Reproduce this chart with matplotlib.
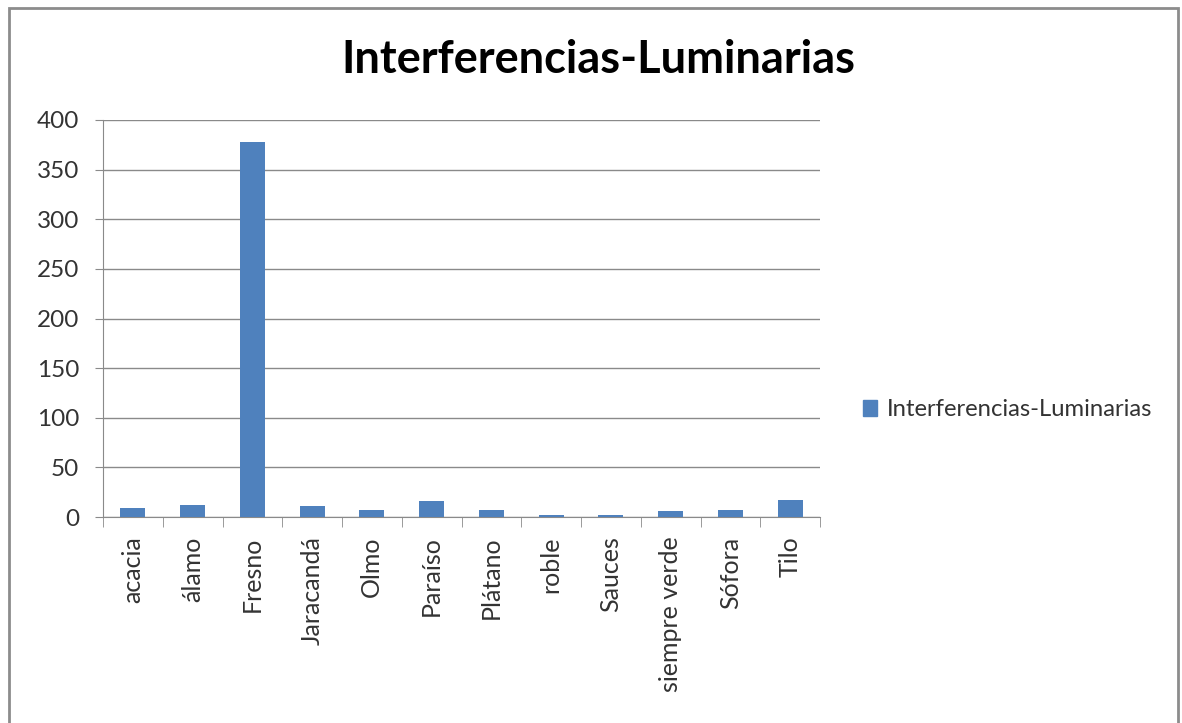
import numpy as np
import matplotlib
matplotlib.use('Agg')
from matplotlib import pyplot as plt
from matplotlib.patches import Rectangle, Patch

categories = ['acacia', 'álamo', 'Fresno', 'Jaracandá', 'Olmo', 'Paraíso', 'Plátano',
              'roble', 'Sauces', 'siempre verde', 'Sófora', 'Tilo']
values = [9, 12, 378, 11, 7, 16, 7, 2, 2, 6, 7, 17]
series_name = 'Interferencias-Luminarias'
yticks = [0, 50, 100, 150, 200, 250, 300, 350, 400]

plt.rcParams['font.family'] = ['Lato', 'DejaVu Sans']

fig = plt.figure(figsize=(11.82, 7.23), dpi=100)
ax = fig.add_axes([103 / 1182, 1 - 517 / 723, (820 - 103) / 1182, (517 - 120) / 723])

# outer chart frame
fig.patches.append(Rectangle((9 / 1182, -0.05), (1178 - 9) / 1182, 1.05 - 8 / 723,
                             transform=fig.transFigure, fill=False,
                             edgecolor='#8c8c8c', linewidth=2))

x = np.arange(len(categories))
ax.bar(x, values, width=0.42, color='#4f81bd', zorder=3)

ax.set_xlim(-0.5, len(categories) - 0.5)
ax.set_ylim(0, 400)
ax.set_yticks(yticks)
ax.set_yticklabels([str(t) for t in yticks], fontsize=17.5, color='#333333')
ax.yaxis.grid(True, color='#8a8a8a', linewidth=1)
ax.set_axisbelow(True)

# category labels centred, ticks between categories
ax.set_xticks(x)
ax.set_xticklabels(categories, rotation=90, fontsize=18, color='#333333')
ax.tick_params(axis='x', length=0, pad=14)
ax.set_xticks(np.arange(len(categories) + 1) - 0.5, minor=True)
ax.tick_params(axis='x', which='minor', length=7, color='#8a8a8a')
ax.tick_params(axis='y', length=6, color='#8a8a8a', pad=11)

for s in ['top', 'right']:
    ax.spines[s].set_visible(False)
for s in ['left', 'bottom']:
    ax.spines[s].set_color('#8a8a8a')

fig.text(598 / 1182, 1 - 60 / 723, series_name, ha='center', va='center',
         fontsize=32.5, fontweight='bold', color='black')

fig.legend(handles=[Patch(color='#4f81bd', label=series_name)],
           loc='center left', bbox_to_anchor=(841 / 1182, 1 - 410 / 723),
           frameon=False, fontsize=17.2, handlelength=0.6, handleheight=0.6,
           handletextpad=0.4, labelcolor='#333333')

fig.savefig('out.png', dpi=100)
